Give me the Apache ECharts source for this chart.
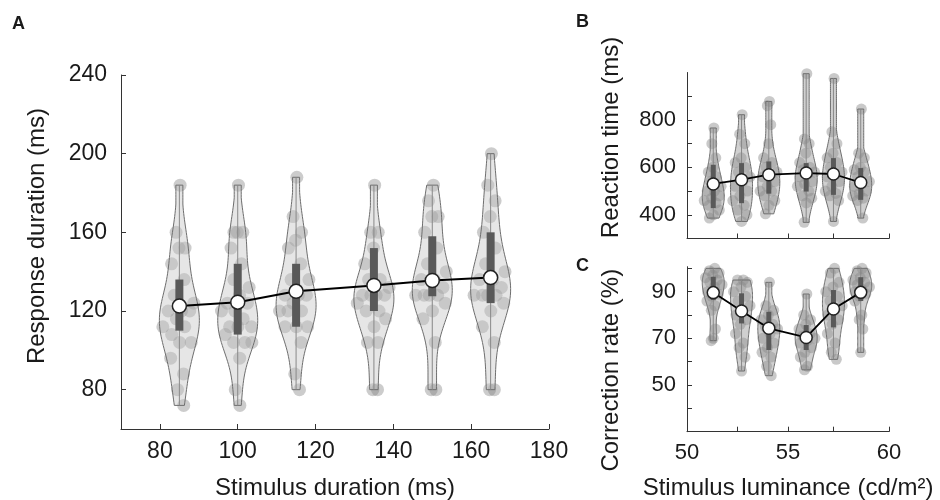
<!DOCTYPE html>
<html>
<head>
<meta charset="utf-8">
<script src="https://cdn.jsdelivr.net/npm/echarts@6/dist/echarts.min.js"></script>
<style>
  html, body { margin: 0; background: #fff; }
  #chart { width: 940px; height: 500px; }
</style>
</head>
<body>
<div id="chart"></div>
<script>
// ---- A: response duration vs stimulus duration
const durX = [85, 100, 115, 135, 150, 165];
const durPoints = [
  [184, 160, 152, 152, 144, 136, 128, 124, 120, 120, 120, 116, 112, 112, 108, 104, 104, 96, 88, 80, 72],
  [184, 160, 160, 160, 152, 144, 136, 132, 128, 124, 124, 120, 120, 116, 112, 112, 112, 108, 104, 104, 104, 96, 80, 72],
  [188, 168, 160, 156, 152, 144, 136, 136, 128, 128, 128, 124, 120, 120, 120, 112, 112, 112, 104, 88, 80],
  [184, 160, 160, 152, 144, 136, 136, 132, 128, 128, 128, 128, 124, 120, 120, 116, 112, 104, 104, 80, 80],
  [184, 176, 168, 168, 160, 152, 144, 140, 136, 136, 132, 128, 128, 128, 128, 124, 120, 116, 104, 80, 80],
  [200, 184, 176, 168, 160, 152, 144, 140, 136, 136, 132, 128, 128, 128, 128, 124, 120, 112, 104, 80, 80]
];
const durMedian = [122.5, 124.5, 130, 133, 135.5, 137];
const durQ1 = [110, 108, 112, 120, 127.5, 124];
const durQ3 = [136, 144, 144, 152, 158, 160];
const durTicksX = [80, 100, 120, 140, 160, 180];
const durTicksY = [80, 120, 160, 200, 240];

// ---- B: reaction time vs luminance
const lumX = [51.3, 52.7, 54.05, 55.9, 57.25, 58.6];
const rtPoints = [
  [766, 700, 640, 600, 580, 560, 540, 520, 500, 500, 480, 470, 460, 450, 440, 420, 400, 386],
  [822, 740, 700, 640, 620, 600, 580, 560, 540, 520, 500, 480, 460, 440, 420, 400, 372],
  [878, 860, 780, 700, 640, 620, 600, 580, 570, 560, 540, 520, 500, 500, 480, 460, 440, 404],
  [995, 720, 700, 660, 620, 600, 590, 580, 570, 560, 540, 530, 520, 500, 480, 470, 450, 368],
  [975, 750, 700, 660, 640, 620, 600, 580, 570, 560, 540, 520, 500, 490, 480, 460, 372],
  [846, 660, 640, 600, 590, 580, 560, 540, 530, 520, 500, 490, 480, 470, 460, 386]
];
const rtMedian = [530, 548, 569, 576, 572, 536];
const rtQ1 = [428, 449, 489, 498, 484, 463];
const rtQ3 = [611, 618, 625, 618, 639, 597];
const rtTicks = [400, 500, 600, 700, 800, 900];
const rtLabels = [400, 600, 800];

// ---- C: correction rate vs luminance
const accPoints = [
  [100, 99, 98, 97, 96, 95, 94, 93, 92, 90, 89, 88, 86, 84, 82, 74, 70, 69],
  [95, 95, 94, 92, 90, 88, 86, 84, 82, 80, 78, 76, 72, 68, 66, 62, 56],
  [94, 84, 82, 80, 78, 76, 75, 74, 72, 70, 68, 66, 64, 62, 58, 54],
  [89, 80, 78, 76, 74, 72, 71, 70, 69, 68, 66, 64, 62, 58, 56.5],
  [100, 98, 94, 92, 90, 88, 86, 84, 82, 80, 78, 76, 72, 68, 64, 61],
  [100, 99, 98, 96, 95, 94, 93, 92, 91, 90, 89, 88, 86, 80, 78, 74, 64]
];
const accMedian = [89.6, 81.7, 74.3, 70.4, 82.6, 89.7];
const accQ1 = [86.4, 76.4, 65, 65, 74.7, 86];
const accQ3 = [96.4, 89.3, 81.4, 75.7, 90.7, 96.2];
const accTicks = [40, 50, 60, 70, 80, 90, 100];
const accLabels = [50, 70, 90];

const lumTicks = [52.5, 55, 57.25, 60];
const lumLabels = [50, 55, 60];

const FONT = "'Liberation Sans', Arial, Helvetica, sans-serif";
const INK = '#1a1a1a';

// kernel density, normalised to its own peak, truncated to the data range
function violinStats(vals) {
  const n = vals.length;
  const mean = vals.reduce((a, b) => a + b, 0) / n;
  const sd = Math.sqrt(vals.reduce((a, b) => a + (b - mean) * (b - mean), 0) / (n - 1));
  const h = 0.8 * 1.06 * sd * Math.pow(n, -0.2);
  const lo = Math.min(...vals), hi = Math.max(...vals);
  const dens = v => vals.reduce((s, x) => { const u = (v - x) / h; return s + Math.exp(-0.5 * u * u); }, 0);
  let peak = 0;
  for (let k = 0; k <= 80; k++) peak = Math.max(peak, dens(lo + (hi - lo) * k / 80));
  return { lo, hi, width: v => dens(v) / peak };
}

function panelSeries(p) {
  const st = p.points.map(violinStats);
  const axes = { xAxisIndex: p.axis, yAxisIndex: p.axis };
  const flat = [];
  p.points.forEach((g, i) => g.forEach((v, k) => flat.push([p.xs[i], v, i, k])));

  const pts = Object.assign({
    type: 'custom', z: 2, silent: true,
    data: flat,
    encode: { x: 0, y: 1 },
    renderItem: (params, api) => {
      const i = api.value(2), k = api.value(3), v = api.value(1);
      const c = api.coord([api.value(0), v]);
      const w = Math.max(p.minW, st[i].width(v) * p.halfW);
      const t = ((k + 1) * 0.618034) % 1 * 2 - 1;
      return { type: 'circle', shape: { cx: c[0] + t * w * 0.9, cy: c[1], r: p.ptR },
        style: { fill: p.ptFill } };
    }
  }, axes);

  const vio = Object.assign({
    type: 'custom', z: 3, silent: true,
    data: p.xs.map((x, i) => [x, p.median[i]]),
    encode: { x: 0, y: 1 },
    renderItem: (params, api) => {
      const i = params.dataIndex, s = st[i], x = p.xs[i];
      const cx = api.coord([x, s.lo])[0];
      const right = [], left = [];
      const N = 70;
      for (let k = 0; k <= N; k++) {
        const v = s.lo + (s.hi - s.lo) * k / N;
        const y = api.coord([x, v])[1];
        const w = Math.max(p.minW, s.width(v) * p.halfW);
        right.push([cx + w, y]);
        left.unshift([cx - w, y]);
      }
      const yLo = api.coord([x, s.lo])[1], yHi = api.coord([x, s.hi])[1];
      const y1 = api.coord([x, p.q1[i]])[1], y3 = api.coord([x, p.q3[i]])[1];
      return { type: 'group', children: [
        { type: 'polygon', shape: { points: right.concat(left) },
          style: { fill: p.vioFill, stroke: '#6e6e6e', lineWidth: 1 } },
        { type: 'line', shape: { x1: cx, y1: yLo, x2: cx, y2: yHi },
          style: { stroke: '#888', lineWidth: 1 } },
        { type: 'rect', shape: { x: cx - p.boxW / 2, y: y3, width: p.boxW, height: y1 - y3 },
          style: { fill: '#595959' } }
      ] };
    }
  }, axes);

  const mid = Object.assign({
    type: 'line', z: 5, silent: true,
    data: p.xs.map((x, i) => [x, p.median[i]]),
    symbol: 'circle', symbolSize: p.dot,
    itemStyle: { color: '#fff', borderColor: '#222', borderWidth: 1.5 },
    lineStyle: { color: '#000', width: p.lineW }
  }, axes);

  return [pts, vio, mid];
}

function valueAxis(o) {
  return Object.assign({
    type: 'value',
    splitLine: { show: false },
    axisLine: { show: true, onZero: false, lineStyle: { color: '#333', width: 1 } },
    axisTick: { show: true, inside: true, length: 5, lineStyle: { color: '#333' }, customValues: o.ticks },
    axisLabel: { show: o.labels !== null, customValues: o.labels || undefined,
      color: INK, fontFamily: FONT, fontSize: o.fs, margin: o.margin },
    nameLocation: 'middle',
    nameTextStyle: { color: INK, fontFamily: FONT, fontSize: 24, padding: o.pad || 0 }
  }, o.extra);
}

const chart = echarts.init(document.getElementById('chart'), null, { renderer: 'canvas' });

chart.setOption({
  animation: false,
  backgroundColor: '#fff',
  grid: [
    { left: 121, top: 75, width: 428, height: 354, outerBoundsMode: 'none' },
    { left: 687, top: 72.5, width: 202, height: 166, outerBoundsMode: 'none' },
    { left: 687, top: 266.7, width: 202, height: 165, outerBoundsMode: 'none' }
  ],
  xAxis: [
    valueAxis({ ticks: durTicksX, labels: durTicksX, fs: 23, margin: 11,
      extra: { gridIndex: 0, min: 70, max: 180, name: 'Stimulus duration (ms)', nameGap: 47 } }),
    valueAxis({ ticks: lumTicks, labels: null, fs: 22, margin: 10,
      extra: { gridIndex: 1, min: 50, max: 60 } }),
    valueAxis({ ticks: lumTicks, labels: lumLabels, fs: 22, margin: 10,
      extra: { gridIndex: 2, min: 50, max: 60, name: 'Stimulus luminance (cd/m²)', nameGap: 45 } })
  ],
  yAxis: [
    valueAxis({ ticks: durTicksY, labels: durTicksY, fs: 23, margin: 14, pad: [0, 0, 0, 32],
      extra: { gridIndex: 0, min: 60, max: 240, name: 'Response duration (ms)', nameGap: 72 } }),
    valueAxis({ ticks: rtTicks, labels: rtLabels, fs: 22, margin: 11, pad: [0, 0, 0, 36],
      extra: { gridIndex: 1, min: 300, max: 1000, name: 'Reaction time (ms)', nameGap: 64 } }),
    valueAxis({ ticks: accTicks, labels: accLabels, fs: 22, margin: 11, pad: [0, 42, 0, 0],
      extra: { gridIndex: 2, min: 30, max: 100.7, name: 'Correction rate (%)', nameGap: 64 } })
  ],
  graphic: [
    { type: 'text', left: 12, top: 15, style: { text: 'A', fontFamily: FONT, fontWeight: 'bold', fontSize: 18, fill: INK } },
    { type: 'text', left: 576, top: 13, style: { text: 'B', fontFamily: FONT, fontWeight: 'bold', fontSize: 18, fill: INK } },
    { type: 'text', left: 576, top: 257, style: { text: 'C', fontFamily: FONT, fontWeight: 'bold', fontSize: 18, fill: INK } }
  ],
  series: [].concat(
    panelSeries({ axis: 0, xs: durX, points: durPoints, median: durMedian, q1: durQ1, q3: durQ3,
      halfW: 20, minW: 3.5, boxW: 8, ptR: 6.5, dot: 14, lineW: 2,
      ptFill: 'rgba(120,120,120,0.38)', vioFill: 'rgba(195,195,195,0.42)' }),
    panelSeries({ axis: 1, xs: lumX, points: rtPoints, median: rtMedian, q1: rtQ1, q3: rtQ3,
      halfW: 11, minW: 3, boxW: 5, ptR: 5.5, dot: 12, lineW: 1.8,
      ptFill: 'rgba(120,120,120,0.4)', vioFill: 'rgba(150,150,150,0.45)' }),
    panelSeries({ axis: 2, xs: lumX, points: accPoints, median: accMedian, q1: accQ1, q3: accQ3,
      halfW: 11, minW: 3, boxW: 5, ptR: 5.5, dot: 12, lineW: 1.8,
      ptFill: 'rgba(120,120,120,0.4)', vioFill: 'rgba(150,150,150,0.45)' })
  )
});
</script>
</body>
</html>
